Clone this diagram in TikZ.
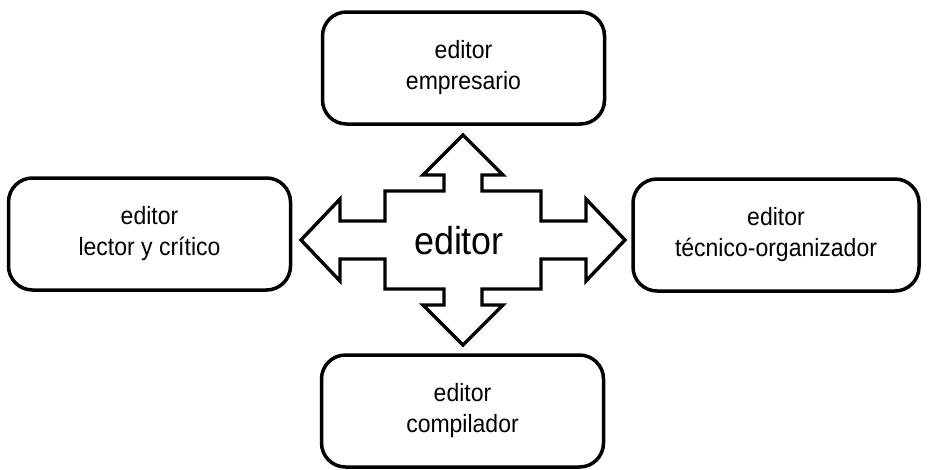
\documentclass[tikz,border=0pt]{standalone}
\usepackage{fontspec}
\setmainfont[FakeStretch=0.92]{Liberation Sans}
\begin{document}
\begin{tikzpicture}[x=1pt,y=-1pt]
\useasboundingbox (0,0) rectangle (928,469);
\begin{scope}[every node/.style={draw,rounded corners=24pt,line width=3.5pt,
              minimum width=282pt,minimum height=112pt,align=center,
              font=\fontsize{25}{31}\selectfont}]
    \node (E) at (463.5,68) {editor\\empresario};

    \node (L) at (149.5,234) {editor\\lector y crítico};
    \node[minimum width=286pt] (T) at (776,235) {editor\\técnico-organizador};

    \node (C) at (462.5,411) {editor\\compilador};
\end{scope}

\coordinate (core) at (463,240);
\node[font=\fontsize{39}{46}\selectfont] (lbl) at (459,241) {editor};

\draw[line width=3.4pt,line join=miter,shift={(core)}]
    (-162,0) -- (-123,-41) -- (-123,-19) -- (-78,-19) -- (-78,-49)
    -- (-19,-49) -- (-19,-65) -- (-40,-65) -- (0,-105) -- (40,-65)
    -- (19,-65) -- (19,-49) -- (78,-49) -- (78,-19) -- (123,-19)
    -- (123,-41) -- (162,0) -- (123,41) -- (123,19) -- (78,19)
    -- (78,49) -- (19,49) -- (19,65) -- (40,65) -- (0,105)
    -- (-40,65) -- (-19,65) -- (-19,49) -- (-78,49) -- (-78,19)
    -- (-123,19) -- (-123,41) -- cycle;
\end{tikzpicture}
\end{document}
